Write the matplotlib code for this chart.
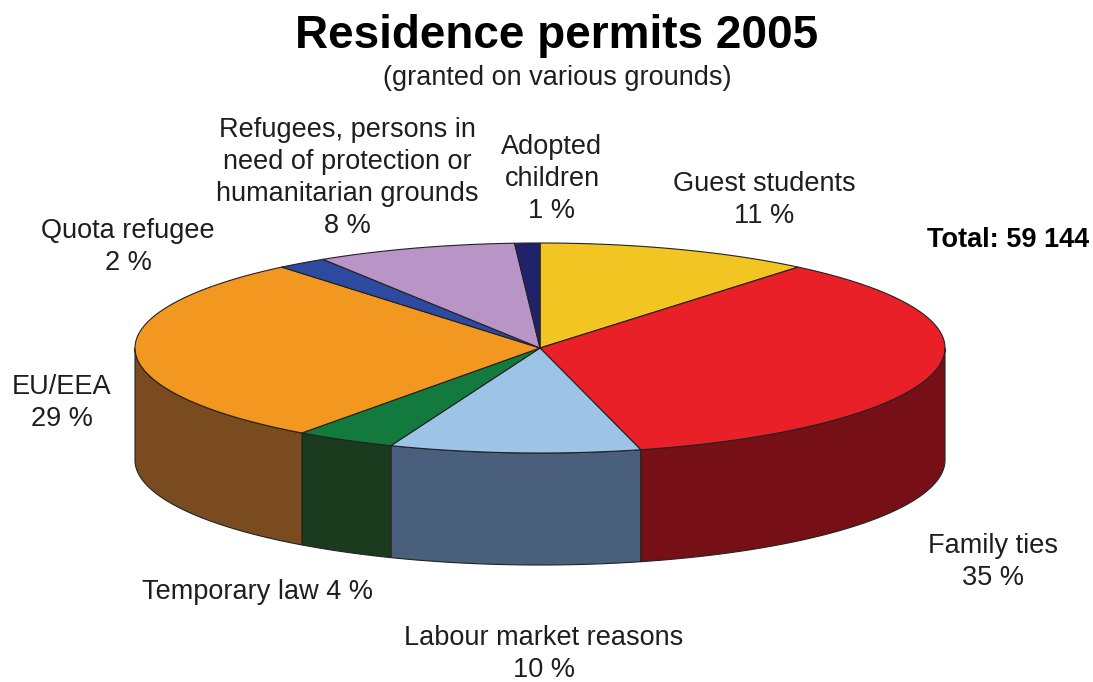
import numpy as np
import matplotlib.pyplot as plt
from matplotlib.patches import Polygon

# permit categories, clockwise from 12 o'clock
categories = ["Guest students", "Family ties", "Labour market reasons", "Temporary law",
              "EU/EEA", "Quota refugee",
              "Refugees, persons in need of protection or humanitarian grounds",
              "Adopted children"]
shares = [11, 35, 10, 4, 29, 2, 8, 1]
total = "59 144"

top_colors = ["#f2c522", "#e92027", "#9dc3e6", "#117a3c", "#f2971f", "#2c4ba0", "#b895c6", "#20226a"]
side_colors = ["#8a6f12", "#761016", "#4a5f7b", "#1a3b1d", "#7a4b1f", "#1a2c60", "#6b5577", "#10123d"]

# label text and anchor (pixel coords)
labels = [
    ("Guest students\n11 %", 764, 200),
    ("Family ties\n35 %", 993, 562),
    ("Labour market reasons\n10 %", 544, 654),
    ("Temporary law 4 %", 258, 592),
    ("EU/EEA\n29 %", 62, 403),
    ("Quota refugee\n2 %", 128, 247),
    ("Refugees, persons in\nneed of protection or\nhumanitarian grounds\n8 %", 347, 178),
    ("Adopted\nchildren\n1 %", 552, 179),
]

cx, cy = 540, 348
rx, ry = 405, 105
depth = 112

plt.rcParams['font.family'] = ['Liberation Sans', 'DejaVu Sans']
fig = plt.figure(figsize=(10.93, 6.82), dpi=100)
ax = fig.add_axes([0, 0, 1, 1])
ax.set_xlim(0, 1093)
ax.set_ylim(682, 0)
ax.axis('off')


def arc(a, b, n=80):
    t = np.radians(np.linspace(a, b, n))
    return cx + rx * np.sin(t), cy - ry * np.cos(t)


bounds = np.concatenate([[0], np.cumsum(shares)]) / sum(shares) * 360

# side walls on the front half
for i in range(len(shares)):
    a, b = max(bounds[i], 90), min(bounds[i + 1], 270)
    if a >= b:
        continue
    x, y = arc(a, b)
    pts = np.column_stack([np.concatenate([x, x[::-1]]),
                           np.concatenate([y, y[::-1] + depth])])
    ax.add_patch(Polygon(pts, closed=True, facecolor=side_colors[i],
                         edgecolor='#222222', linewidth=0.8))

# top face
for i in range(len(shares)):
    x, y = arc(bounds[i], bounds[i + 1])
    pts = np.column_stack([np.concatenate([[cx], x]), np.concatenate([[cy], y])])
    ax.add_patch(Polygon(pts, closed=True, facecolor=top_colors[i],
                         edgecolor='#222222', linewidth=0.8))

for text, lx, ly in labels:
    ax.text(lx, ly, text, ha='center', va='center', fontsize=19.5,
            color='#1e1e1e', linespacing=1.3)

ax.text(557, 36, "Residence permits 2005", ha='center', va='center',
        fontsize=33, fontweight='bold', color='black')
ax.text(557, 78, "(granted on various grounds)", ha='center', va='center',
        fontsize=19.5, color='#1e1e1e')
ax.text(1089, 240, "Total: " + total, ha='right', va='center',
        fontsize=19.5, fontweight='bold', color='black')

fig.savefig("out.png", dpi=100)
